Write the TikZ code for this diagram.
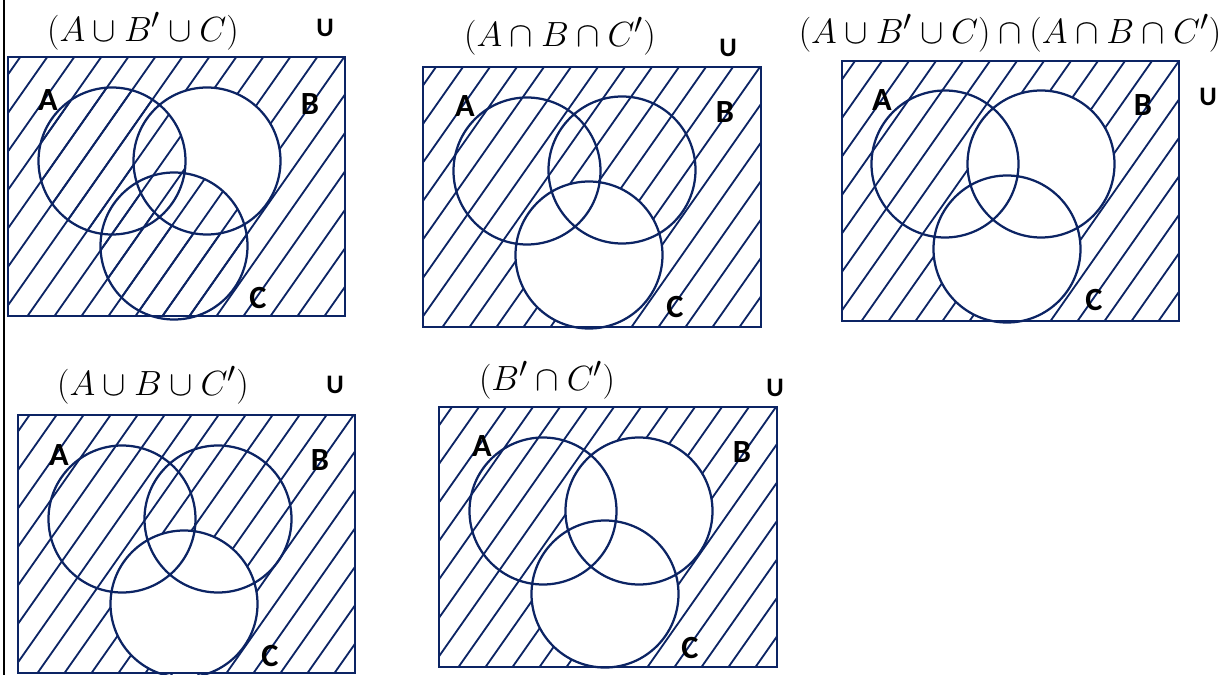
\documentclass[tikz,border=0pt]{standalone}
\usepackage{amsmath,amssymb}
\usepackage{fontspec}
\setsansfont{Carlito}
\usepackage{tikz}

\definecolor{venn}{RGB}{12,36,100}
\newcommand{\hatchbox}[2]{%
  \foreach \k in {0,...,21}
    \draw[hatch] ({#1-200+27*\k},{#2+5}) -- ++(200,-285);%
}

\begin{document}
\begin{tikzpicture}[x=0.025cm, y=-0.025cm,
    set/.style={draw=venn, line width=1.6pt},
    hatch/.style={draw=venn, line width=1.3pt},
    lbl/.style={font=\sffamily\bfseries\fontsize{23}{26}\selectfont, inner sep=0pt},
    uni/.style={font=\sffamily\bfseries\fontsize{19}{22}\selectfont, inner sep=0pt},
    ttl/.style={font=\Huge, inner sep=0pt}
]
\useasboundingbox (0,0) rectangle (1230,675);
\draw[line width=1.3pt] (4,0) -- (4,675);

% (A u B' u C)
\begin{scope}[even odd rule]
  \clip (8,57) rectangle (345,316) (207,161) circle[radius=73.5];
  \hatchbox{8}{316}
\end{scope}
\begin{scope}
  \clip (8,57) rectangle (345,316);
  \clip (112,161) circle[radius=73.5] (174,246) circle[radius=73.5];
  \hatchbox{8}{316}
\end{scope}
\draw[set] (8,57) rectangle (345,316);
\draw[set] (112,161) circle[radius=73.5] (207,161) circle[radius=73.5] (174,246) circle[radius=73.5];
\node[ttl] (t1) at (143,31) {$(A\cup B'\cup C)$};
\node[uni] (u1) at (325,28) {U};
\node[lbl] (a1) at (48,100) {A};
\node[lbl] (b1) at (310,104) {B};
\node[lbl] (c1) at (258,298) {C};

% (A n B n C')
\begin{scope}[even odd rule]
  \clip (423,67) rectangle (761,327) (589,255) circle[radius=73.5];
  \hatchbox{423}{327}
\end{scope}
\draw[set] (423,67) rectangle (761,327);
\draw[set] (527,171) circle[radius=73.5] (622,170) circle[radius=73.5] (589,255) circle[radius=73.5];
\node[ttl] (t2) at (560,36) {$(A\cap B\cap C')$};
\node[uni] (u2) at (728,48) {U};
\node[lbl] (a2) at (465,106) {A};
\node[lbl] (b2) at (725,112) {B};
\node[lbl] (c2) at (675,307) {C};

% both together
\begin{scope}[even odd rule]
  \clip (842,61) rectangle (1179,321) (1041,164) circle[radius=73.5];
  \clip (842,61) rectangle (1179,321) (1007,249) circle[radius=73.5];
  \hatchbox{842}{321}
\end{scope}
\draw[set] (842,61) rectangle (1179,321);
\draw[set] (945,164) circle[radius=73.5] (1041,164) circle[radius=73.5] (1007,249) circle[radius=73.5];
\node[ttl] (t3) at (1010,33) {$(A\cup B'\cup C)\cap(A\cap B\cap C')$};
\node[uni] (u3) at (1208,97) {U};
\node[lbl] (a3) at (882,100) {A};
\node[lbl] (b3) at (1143,105) {B};
\node[lbl] (c3) at (1094,300) {C};

% (A u B u C')
\begin{scope}[even odd rule]
  \clip (18,415) rectangle (355,673) (184,604) circle[radius=73.5];
  \hatchbox{18}{673}
\end{scope}
\draw[set] (18,415) rectangle (355,673);
\draw[set] (122,519) circle[radius=73.5] (218,519) circle[radius=73.5] (184,604) circle[radius=73.5];
\node[ttl] (t4) at (153,385) {$(A\cup B\cup C')$};
\node[uni] (u4) at (335,385) {U};
\node[lbl] (a4) at (59,455) {A};
\node[lbl] (b4) at (320,460) {B};
\node[lbl] (c4) at (270,656) {C};

% (B' n C')
\begin{scope}[even odd rule]
  \clip (439,407) rectangle (777,667) (639,511) circle[radius=73.5];
  \clip (439,407) rectangle (777,667) (605,594) circle[radius=73.5];
  \hatchbox{439}{667}
\end{scope}
\draw[set] (439,407) rectangle (777,667);
\draw[set] (543,511) circle[radius=73.5] (639,511) circle[radius=73.5] (605,594) circle[radius=73.5];
\node[ttl] (t5) at (547,380) {$(B'\cap C')$};
\node[uni] (u5) at (775,388) {U};
\node[lbl] (a5) at (482,446) {A};
\node[lbl] (b5) at (742,452) {B};
\node[lbl] (c5) at (690,648) {C};
\end{tikzpicture}
\end{document}
